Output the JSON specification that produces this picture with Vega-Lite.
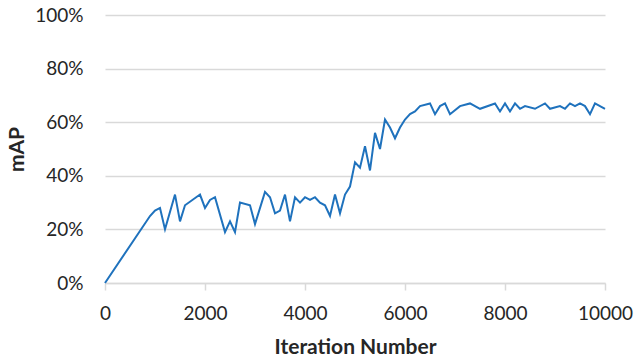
{
  "$schema": "https://vega.github.io/schema/vega-lite/v6.json",
  "autosize": {"type": "none"},
  "padding": {"left": 105, "top": 15, "right": 30, "bottom": 75},
  "width": 500,
  "height": 268,
  "background": "white",
  "config": {"view": {"stroke": null}, "font": "Lato"},
  "data": {"values": [
    {"it": 0, "map": 0},
    {"it": 900, "map": 25},
    {"it": 1000, "map": 27},
    {"it": 1100, "map": 28},
    {"it": 1200, "map": 20},
    {"it": 1400, "map": 33},
    {"it": 1500, "map": 23},
    {"it": 1600, "map": 29},
    {"it": 1900, "map": 33},
    {"it": 2000, "map": 28},
    {"it": 2100, "map": 31},
    {"it": 2200, "map": 32},
    {"it": 2400, "map": 19},
    {"it": 2500, "map": 23},
    {"it": 2600, "map": 19},
    {"it": 2700, "map": 30},
    {"it": 2900, "map": 29},
    {"it": 3000, "map": 22},
    {"it": 3200, "map": 34},
    {"it": 3300, "map": 32},
    {"it": 3400, "map": 26},
    {"it": 3500, "map": 27},
    {"it": 3600, "map": 33},
    {"it": 3700, "map": 23},
    {"it": 3800, "map": 32},
    {"it": 3900, "map": 30},
    {"it": 4000, "map": 32},
    {"it": 4100, "map": 31},
    {"it": 4200, "map": 32},
    {"it": 4300, "map": 30},
    {"it": 4400, "map": 29},
    {"it": 4500, "map": 25},
    {"it": 4600, "map": 33},
    {"it": 4700, "map": 26},
    {"it": 4800, "map": 33},
    {"it": 4900, "map": 36},
    {"it": 5000, "map": 45},
    {"it": 5100, "map": 43},
    {"it": 5200, "map": 51},
    {"it": 5300, "map": 42},
    {"it": 5400, "map": 56},
    {"it": 5500, "map": 50},
    {"it": 5600, "map": 61},
    {"it": 5700, "map": 58},
    {"it": 5800, "map": 54},
    {"it": 5900, "map": 58},
    {"it": 6000, "map": 61},
    {"it": 6100, "map": 63},
    {"it": 6200, "map": 64},
    {"it": 6300, "map": 66},
    {"it": 6500, "map": 67},
    {"it": 6600, "map": 63},
    {"it": 6700, "map": 66},
    {"it": 6800, "map": 67},
    {"it": 6900, "map": 63},
    {"it": 7100, "map": 66},
    {"it": 7300, "map": 67},
    {"it": 7500, "map": 65},
    {"it": 7800, "map": 67},
    {"it": 7900, "map": 64},
    {"it": 8000, "map": 67},
    {"it": 8100, "map": 64},
    {"it": 8200, "map": 67},
    {"it": 8300, "map": 65},
    {"it": 8400, "map": 66},
    {"it": 8600, "map": 65},
    {"it": 8800, "map": 67},
    {"it": 8900, "map": 65},
    {"it": 9100, "map": 66},
    {"it": 9200, "map": 65},
    {"it": 9300, "map": 67},
    {"it": 9400, "map": 66},
    {"it": 9500, "map": 67},
    {"it": 9600, "map": 66},
    {"it": 9700, "map": 63},
    {"it": 9800, "map": 67},
    {"it": 9900, "map": 66},
    {"it": 10000, "map": 65}
  ]},
  "mark": {"type": "line", "color": "#1f72bd", "strokeWidth": 2},
  "encoding": {
    "x": {
      "field": "it", "type": "quantitative",
      "scale": {"domain": [0, 10000], "nice": false, "zero": true},
      "axis": {
        "title": "Iteration Number",
        "values": [0, 2000, 4000, 6000, 8000, 10000],
        "format": "d",
        "grid": false,
        "labelFlush": false,
        "labelOverlap": false,
        "domainColor": "#d9d9d9", "domainWidth": 1.5,
        "tickColor": "#d9d9d9", "tickSize": 7, "tickWidth": 1.5,
        "labelFont": "Lato", "labelFontSize": 19, "labelColor": "#262626",
        "labelPadding": 14,
        "titleFont": "Lato", "titleFontSize": 21, "titleFontWeight": "bold", "titleColor": "#262626",
        "titleY": 64, "titleBaseline": "middle"
      }
    },
    "y": {
      "field": "map", "type": "quantitative",
      "scale": {"domain": [0, 100], "nice": false},
      "axis": {
        "title": "mAP",
        "values": [0, 20, 40, 60, 80, 100],
        "labelExpr": "datum.value + '%'",
        "grid": true, "gridColor": "#d9d9d9", "gridWidth": 1.5,
        "domain": false, "ticks": false,
        "labelFlush": false,
        "labelFont": "Lato", "labelFontSize": 19, "labelColor": "#262626",
        "labelPadding": 22,
        "titleFont": "Lato", "titleFontSize": 21, "titleFontWeight": "bold", "titleColor": "#262626",
        "titleX": -88, "titleBaseline": "middle"
      }
    }
  }
}
